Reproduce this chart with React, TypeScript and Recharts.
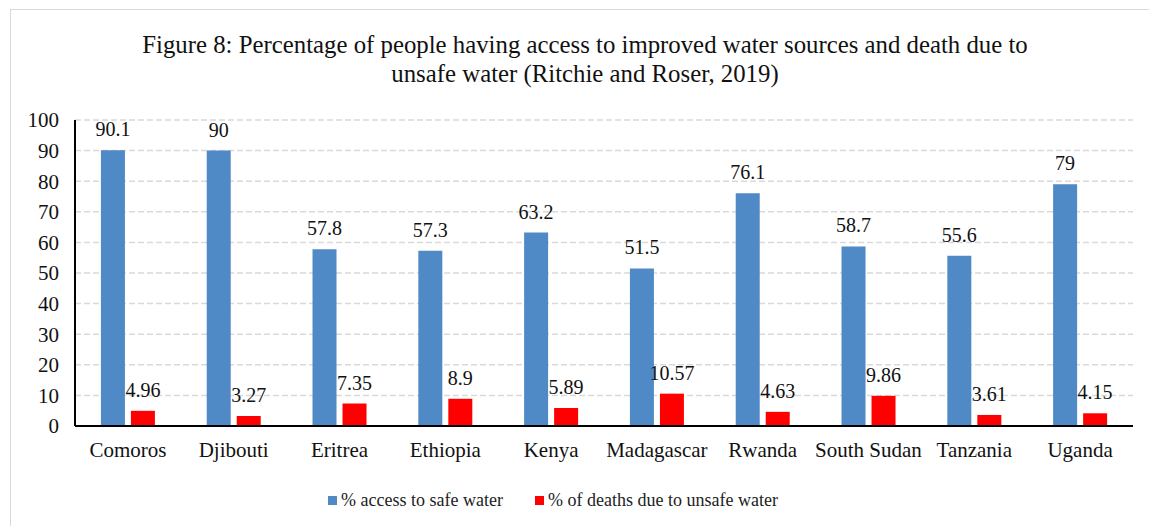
import React from 'react';
import { BarChart, Bar, XAxis, YAxis, CartesianGrid, LabelList } from 'recharts';

const countries = ['Comoros', 'Djibouti', 'Eritrea', 'Ethiopia', 'Kenya', 'Madagascar', 'Rwanda', 'South Sudan', 'Tanzania', 'Uganda'];
const safeWater = [90.1, 90, 57.8, 57.3, 63.2, 51.5, 76.1, 58.7, 55.6, 79];
const deaths = [4.96, 3.27, 7.35, 8.9, 5.89, 10.57, 4.63, 9.86, 3.61, 4.15];
const yTicks = [0, 10, 20, 30, 40, 50, 60, 70, 80, 90, 100];

const BLUE = '#4f89c6';
const RED = '#ff0000';
const FONT = '"Liberation Serif", "DejaVu Serif", serif';

const data = countries.map((name, i) => ({ name, safe: safeWater[i], deaths: deaths[i] }));

const LegendRow = () => (
  <div
    style={{
      position: 'absolute',
      top: 490,
      left: 0,
      width: 1106,
      display: 'flex',
      justifyContent: 'center',
      alignItems: 'center',
      fontFamily: FONT,
      fontSize: 18,
      color: '#222',
    }}
  >
    <span style={{ width: 9, height: 9, background: BLUE, display: 'inline-block', marginRight: 4 }} />
    <span style={{ marginRight: 32 }}>% access to safe water</span>
    <span style={{ width: 9, height: 9, background: RED, display: 'inline-block', marginRight: 4 }} />
    <span>% of deaths due to unsafe water</span>
  </div>
);

const App = () => (
  <div style={{ position: 'absolute', left: 0, top: 0, width: 1149, height: 526, background: '#fff', overflow: 'hidden' }}>
    <div style={{ position: 'absolute', left: 10, top: 9, width: 1160, height: 540, border: '1px solid #d9d9d9' }} />
    <div
      style={{
        position: 'absolute',
        left: 0,
        top: 30,
        width: 1170,
        textAlign: 'center',
        fontFamily: FONT,
        fontSize: 24.8,
        lineHeight: '29px',
        color: '#111',
      }}
    >
      Figure 8: Percentage of people having access to improved water sources and death due to
      <br />
      unsafe water (Ritchie and Roser, 2019)
    </div>
    <div style={{ position: 'absolute', left: 0, top: 0 }}>
      <BarChart
        width={1149}
        height={526}
        data={data}
        margin={{ top: 120, right: 16, left: 35, bottom: 70 }}
        barCategoryGap="24.5%"
        barGap={6}
      >
        <CartesianGrid vertical={false} stroke="#d9d9d9" strokeDasharray="6 3" strokeWidth={1.5} />
        <XAxis
          dataKey="name"
          height={30}
          axisLine={{ stroke: '#000', strokeWidth: 2 }}
          tickLine={false}
          tickSize={0}
          tickMargin={16}
          interval={0}
          tick={{ fontFamily: FONT, fontSize: 21, fill: '#111' }}
        />
        <YAxis
          width={40}
          domain={[0, 100]}
          ticks={yTicks}
          interval={0}
          axisLine={{ stroke: '#000', strokeWidth: 2 }}
          tickLine={false}
          tickSize={0}
          tickMargin={16}
          tick={{ fontFamily: FONT, fontSize: 21, fill: '#111' }}
        />
        <Bar dataKey="safe" fill={BLUE} isAnimationActive={false}>
          <LabelList dataKey="safe" position="top" offset={14} style={{ fontFamily: FONT, fontSize: 20, fill: '#111' }} />
        </Bar>
        <Bar dataKey="deaths" fill={RED} isAnimationActive={false}>
          <LabelList dataKey="deaths" position="top" offset={14} style={{ fontFamily: FONT, fontSize: 20, fill: '#111' }} />
        </Bar>
      </BarChart>
    </div>
    <LegendRow />
  </div>
);

export default App;
